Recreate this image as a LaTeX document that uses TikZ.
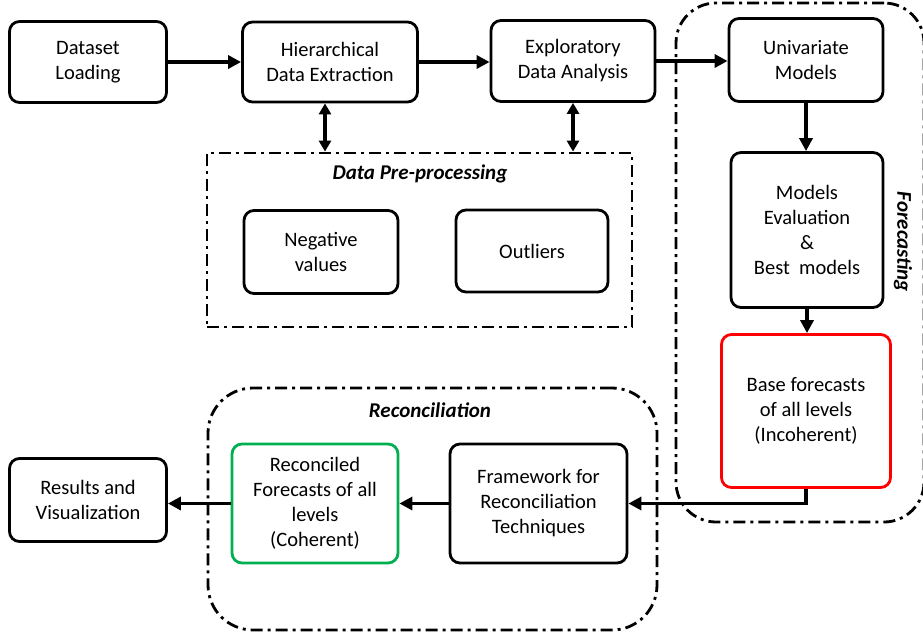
\documentclass[tikz,border=0pt]{standalone}
\usepackage{fontspec}
\setmainfont{Carlito}
\usepackage{xcolor}
\usepackage{tikz}
\usetikzlibrary{arrows.meta, positioning, calc}
\definecolor{fcred}{RGB}{255,0,0}
\definecolor{fcgreen}{RGB}{0,176,80}
\definecolor{fcdark}{RGB}{0,0,0}

\begin{document}
\begin{tikzpicture}[x=1pt, y=-1pt,
  box/.style={draw=fcdark, line width=2.8pt, rounded corners=10pt, align=center,
    font=\fontsize{20.5}{25}\selectfont, inner sep=2pt},
  flow/.style={line width=3.8pt, -{Triangle[length=13pt,width=13pt]}},
  link/.style={line width=3.4pt, {Triangle[length=11pt,width=12pt]}-{Triangle[length=11pt,width=12pt]}},
  frame/.style={draw=fcdark, line width=2.8pt, dash pattern=on 12pt off 5pt on 3pt off 5pt},
  tag/.style={font=\fontsize{21}{24}\selectfont\bfseries\itshape}]
\useasboundingbox (0,0) rectangle (923,633);

% ---- dashed groups ----
\node[frame, rounded corners=40pt, minimum width=248pt, minimum height=519pt] (fcgroup) at (800,262.5) {};
\node[frame, rounded corners=45pt, minimum width=449pt, minimum height=242pt] (rcgroup) at (432.5,509) {};
\node[frame, minimum width=425pt, minimum height=174pt] (prep) at (419.5,240) {};

% group labels
\node[tag] (preplbl) at (420,174) {Data Pre-processing};
\node[tag] (rclbl) at (430,410) {Reconciliation};
\node[tag, rotate=-90] (fclbl) at (903,242) {Forecasting};

% ---- top row ----
\node[box, minimum width=157pt, minimum height=81pt] (load) at (88,62) {Dataset\\Loading};
\node[box, minimum width=175pt, minimum height=80pt] (hier) at (330,62) {Hierarchical\\Data Extraction};
\node[box, minimum width=164pt, minimum height=81pt] (eda) at (573,61) {Exploratory\\Data Analysis};
\node[box, minimum width=154pt, minimum height=83pt] (univ) at (806,60) {Univariate\\Models};

% ---- pre-processing ----
\node[box, minimum width=154pt, minimum height=83pt] (neg) at (321,252) {Negative\\values};
\node[box, minimum width=152pt, minimum height=82pt] (outl) at (532,251) {Outliers};

% ---- forecasting column ----
\node[box, minimum width=152pt, minimum height=155pt] (eval) at (807,230) {Models\\Evaluation\\\&\\Best\ \ models};
\node[box, draw=fcred, minimum width=169pt, minimum height=153pt] (base) at (806,411) {Base forecasts\\of all levels\\(Incoherent)};

% ---- bottom row ----
\node[box, minimum width=177pt, minimum height=119pt] (frmw) at (538.5,503.5) {Framework for\\Reconciliation\\Techniques};
\node[box, draw=fcgreen, minimum width=166pt, minimum height=119pt] (recf) at (315,503.5) {Reconciled\\Forecasts of all\\levels\\(Coherent)};
\node[box, minimum width=157pt, minimum height=83pt] (res) at (88,500) {Results and\\Visualization};

% ---- connectors ----
\draw[flow] (load) -- (hier);
\draw[flow] (hier.east) -- (hier.east -| eda.west);
\draw[flow] (eda.east) -- (eda.east -| univ.west);
\draw[flow] (univ.south) -- (univ.south |- eval.north);
\draw[flow] (eval.south) -- (eval.south |- base.north);
\draw[flow] (base.south) |- (frmw.east);
\draw[flow] (frmw.west) -- (recf.east);
\draw[flow] (recf.west) -- (recf.west -| res.east);

\draw[link] ([xshift=-5pt]hier.south) -- ([xshift=-5pt]hier.south |- prep.north);
\draw[link] (eda.south) -- (eda.south |- prep.north);
\end{tikzpicture}
\end{document}
